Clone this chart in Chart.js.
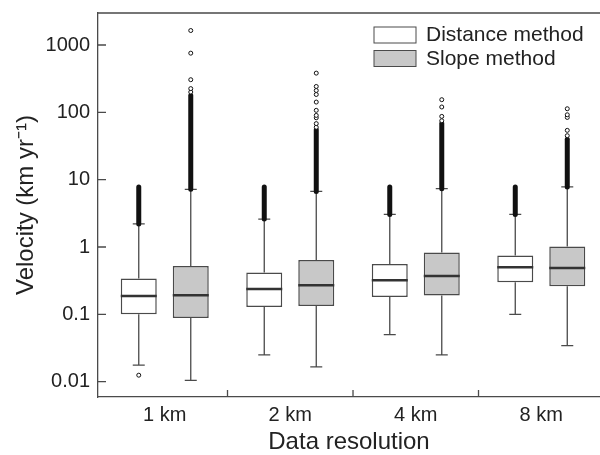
<!DOCTYPE html>
<html>
<head>
<meta charset="utf-8">
<script src="https://cdn.jsdelivr.net/npm/chart.js@4.4.1/dist/chart.umd.min.js"></script>
<style>
  html, body { margin: 0; padding: 0; background: #fff; overflow: hidden; }
</style>
</head>
<body>
<canvas id="chart" width="600" height="455"></canvas>
<script>
const categories = ['1 km', '2 km', '4 km', '8 km'];
const seriesLabels = ['Distance method', 'Slope method'];

// distance method box stats
const distLow = [0.0176, 0.025, 0.05, 0.1];
const distQ1 = [0.100, 0.129, 0.181, 0.300];
const distMedian = [0.187, 0.238, 0.32, 0.50];
const distQ3 = [0.34, 0.42, 0.56, 0.75];
const distHigh = [2.2, 2.6, 3.05, 3.05];
const distDense = [[2.2, 7.8], [2.6, 7.8], [3.05, 7.8], [3.05, 7.8]];
const distOutliers = [[0.0125], [], [], []];

// slope method box stats
const slopeLow = [0.0105, 0.0166, 0.025, 0.0344];
const slopeQ1 = [0.0885, 0.133, 0.19, 0.261];
const slopeMedian = [0.192, 0.27, 0.371, 0.488];
const slopeQ3 = [0.523, 0.641, 0.826, 1.02];
const slopeHigh = [7.2, 6.7, 7.35, 7.8];
const slopeDense = [[7.2, 178], [6.7, 55], [7.35, 68], [7.8, 40]];
const slopeOutliers = [
    [200, 225, 305, 756, 1640],
    [60, 68, 83, 90, 107, 142, 184, 211, 242, 382],
    [75, 87, 120, 154],
    [45, 54, 84, 92, 113]
];

const yTickValues = [0.01, 0.1, 1, 10, 100, 1000];
const yTickLabels = ['0.01', '0.1', '1', '10', '100', '1000'];

const FONT = "'Liberation Sans', Arial, sans-serif";
const LINE = '#4a4a4a';
const TEXT = '#222';

const stats = [
    { low: distLow, q1: distQ1, med: distMedian, q3: distQ3, high: distHigh, dense: distDense, out: distOutliers },
    { low: slopeLow, q1: slopeQ1, med: slopeMedian, q3: slopeQ3, high: slopeHigh, dense: slopeDense, out: slopeOutliers }
];

const boxExtras = {
    id: 'boxExtras',
    beforeDatasetsDraw(chart) {
        const ctx = chart.ctx, y = chart.scales.y;
        ctx.save();
        ctx.strokeStyle = LINE;
        ctx.lineWidth = 1.3;
        stats.forEach((s, d) => {
            chart.getDatasetMeta(d).data.forEach((bar, i) => {
                const x = bar.x;
                ctx.beginPath();
                ctx.moveTo(x, y.getPixelForValue(s.q3[i]));
                ctx.lineTo(x, y.getPixelForValue(s.high[i]));
                ctx.moveTo(x, y.getPixelForValue(s.q1[i]));
                ctx.lineTo(x, y.getPixelForValue(s.low[i]));
                ctx.moveTo(x - 6, y.getPixelForValue(s.high[i]));
                ctx.lineTo(x + 6, y.getPixelForValue(s.high[i]));
                ctx.moveTo(x - 6, y.getPixelForValue(s.low[i]));
                ctx.lineTo(x + 6, y.getPixelForValue(s.low[i]));
                ctx.stroke();
            });
        });
        ctx.restore();
    },
    afterDatasetsDraw(chart) {
        const ctx = chart.ctx, y = chart.scales.y, xs = chart.scales.x;
        const area = chart.chartArea;
        ctx.save();
        stats.forEach((s, d) => {
            chart.getDatasetMeta(d).data.forEach((bar, i) => {
                const x = bar.x, w = bar.width;
                // median
                ctx.strokeStyle = '#333';
                ctx.lineWidth = 2.5;
                ctx.beginPath();
                const ym = y.getPixelForValue(s.med[i]);
                ctx.moveTo(x - w / 2, ym);
                ctx.lineTo(x + w / 2, ym);
                ctx.stroke();
                // dense run of outliers
                ctx.strokeStyle = '#111';
                ctx.lineWidth = 5;
                ctx.lineCap = 'round';
                ctx.beginPath();
                ctx.moveTo(x, y.getPixelForValue(s.dense[i][0]));
                ctx.lineTo(x, y.getPixelForValue(s.dense[i][1]));
                ctx.stroke();
                ctx.lineCap = 'butt';
                // single outliers
                ctx.lineWidth = 1;
                ctx.fillStyle = '#fff';
                s.out[i].forEach(v => {
                    ctx.beginPath();
                    ctx.arc(x, y.getPixelForValue(v), 2, 0, Math.PI * 2);
                    ctx.fill();
                    ctx.stroke();
                });
            });
        });

        // frame: top line, inward ticks
        ctx.strokeStyle = LINE;
        ctx.lineWidth = 1.3;
        ctx.beginPath();
        ctx.moveTo(area.left, area.top);
        ctx.lineTo(area.right, area.top);
        yTickValues.forEach(v => {
            const py = y.getPixelForValue(v);
            ctx.moveTo(area.left, py);
            ctx.lineTo(area.left + 8, py);
        });
        categories.slice(1).forEach((c, i) => {
            const px = xs.getPixelForValue(i + 1.5);
            ctx.moveTo(px, area.bottom);
            ctx.lineTo(px, area.bottom - 7);
        });
        ctx.stroke();

        // legend
        const fills = chart.data.datasets.map(ds => ds.backgroundColor);
        ctx.font = '21px ' + FONT;
        ctx.textBaseline = 'middle';
        ctx.textAlign = 'left';
        chart.data.datasets.forEach((ds, k) => {
            const top = 27 + k * 23.5;
            ctx.fillStyle = fills[k];
            ctx.fillRect(374, top, 42, 16);
            ctx.strokeStyle = LINE;
            ctx.lineWidth = 1;
            ctx.strokeRect(374, top, 42, 16);
            ctx.fillStyle = TEXT;
            ctx.fillText(ds.label, 426, top + 8.5);
        });
        ctx.restore();
    }
};

const boxData = (s) => categories.map((c, i) => ({ x: i + 1, y: [s.q1[i], s.q3[i]] }));

new Chart(document.getElementById('chart'), {
    type: 'bar',
    data: {
        datasets: [
            { label: seriesLabels[0], data: boxData(stats[0]), backgroundColor: '#ffffff', borderColor: LINE, borderWidth: 1.5, borderSkipped: false },
            { label: seriesLabels[1], data: boxData(stats[1]), backgroundColor: '#c8c8c8', borderColor: LINE, borderWidth: 1.5, borderSkipped: false }
        ]
    },
    options: {
        responsive: false,
        animation: false,
        categoryPercentage: 0.8287,
        barPercentage: 0.692,
        layout: { padding: { top: 13, right: 0, left: 0, bottom: 0 } },
        plugins: { legend: { display: false }, tooltip: { enabled: false } },
        scales: {
            x: {
                type: 'linear',
                offset: false,
                min: 0.4681,
                max: 4.468,
                grid: { display: false, drawTicks: false, offset: false },
                border: { display: true, color: LINE, width: 1.3 },
                afterBuildTicks: (s) => { s.ticks = categories.map((c, i) => ({ value: i + 1 })); },
                afterFit: (s) => { s.height = 58; s.paddingLeft = 0; s.paddingRight = 0; },
                ticks: {
                    autoSkip: false, maxRotation: 0, padding: 6, color: TEXT,
                    font: { family: FONT, size: 20 },
                    callback: (v) => categories[v - 1]
                },
                title: {
                    display: true, text: 'Data resolution', color: TEXT,
                    font: { family: FONT, size: 24 }, padding: { top: 0, bottom: -2 }
                }
            },
            y: {
                type: 'logarithmic',
                min: 0.00593,
                max: 2985,
                grid: { display: false, drawTicks: false },
                border: { display: true, color: LINE, width: 1.3 },
                afterBuildTicks: (s) => { s.ticks = yTickValues.map(v => ({ value: v })); },
                afterFit: (s) => { s.width = 98; s.paddingTop = 0; s.paddingBottom = 0; },
                ticks: {
                    autoSkip: false, padding: 8, color: TEXT,
                    font: { family: FONT, size: 20 },
                    callback: (v, i) => yTickLabels[i]
                },
                title: {
                    display: true, text: 'Velocity (km yr⁻¹)', color: TEXT,
                    font: { family: FONT, size: 24 }, padding: { top: 12, bottom: 0 }
                }
            }
        }
    },
    plugins: [boxExtras]
});
</script>
</body>
</html>
